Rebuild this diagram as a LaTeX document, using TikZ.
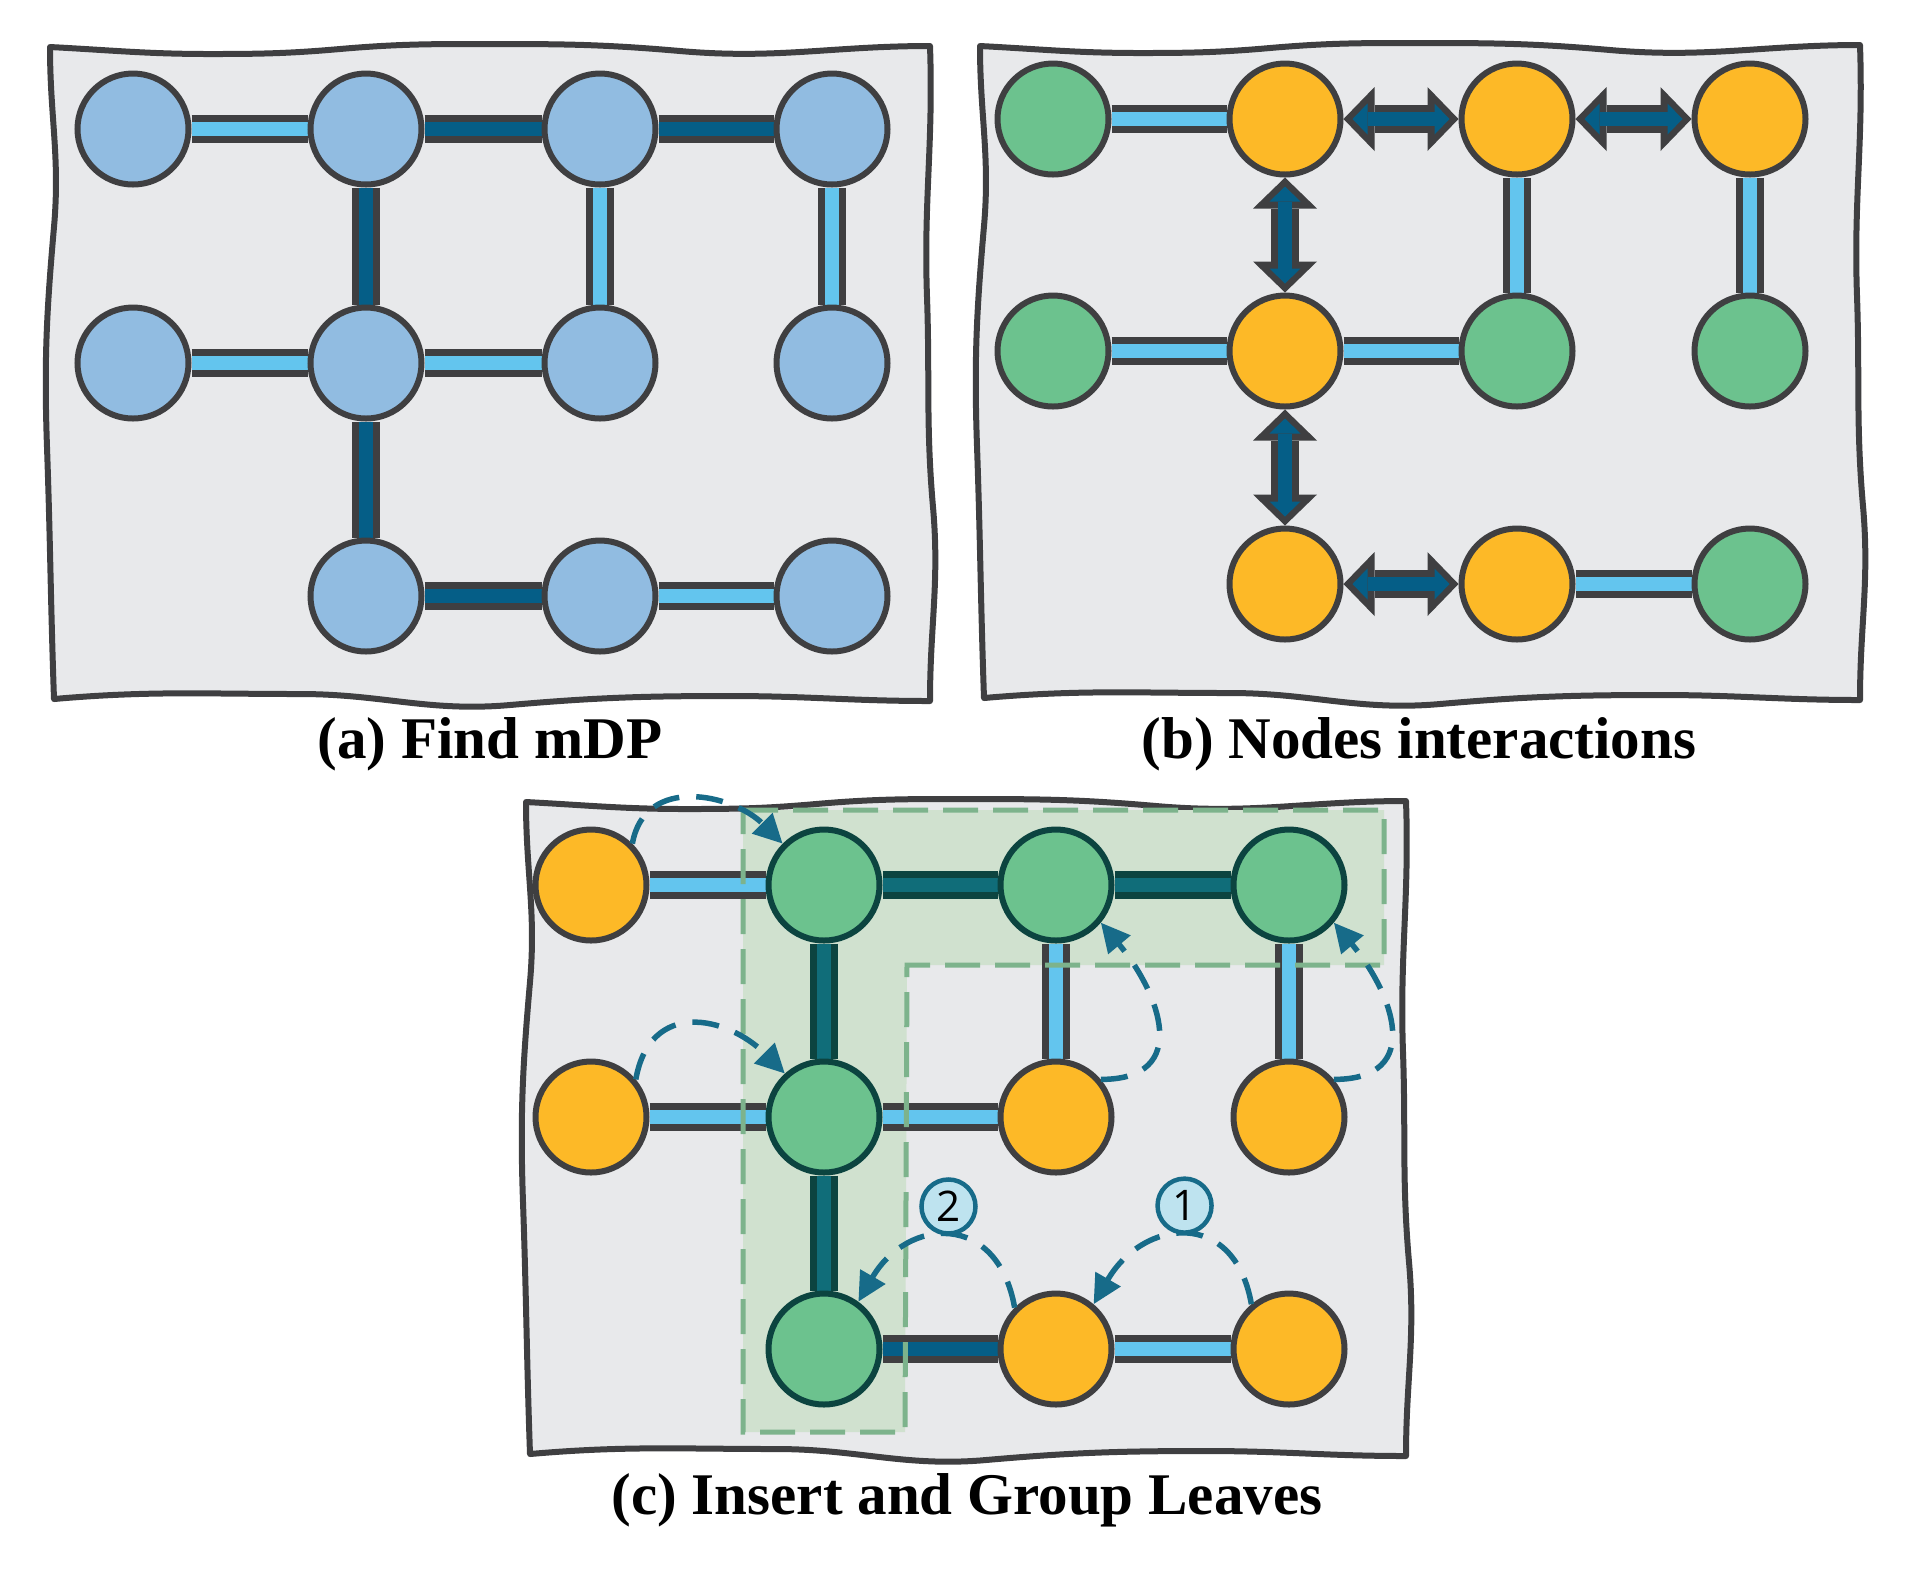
\documentclass[tikz,border=0pt]{standalone}
\usepackage{fontspec}
\setmainfont{Liberation Serif}
\setsansfont{Open Sans}
\usepackage{tikz}
\usetikzlibrary{arrows.meta,shapes,positioning,backgrounds}
\definecolor{panelfill}{RGB}{232, 233, 235}
\definecolor{panelline}{RGB}{63, 63, 65}
\definecolor{nodeline}{RGB}{63, 63, 65}
\definecolor{nodeblue}{RGB}{145, 188, 225}
\definecolor{nodeorange}{RGB}{253, 185, 39}
\definecolor{nodegreen}{RGB}{108, 194, 142}
\definecolor{edgelight}{RGB}{99, 197, 238}
\definecolor{edgedark}{RGB}{5, 94, 135}
\definecolor{edgeteal}{RGB}{16, 109, 121}
\definecolor{tealline}{RGB}{12, 68, 64}
\definecolor{groupfill}{RGB}{208, 225, 207}
\definecolor{groupline}{RGB}{125, 179, 140}
\definecolor{arrowblue}{RGB}{23, 107, 137}
\definecolor{labelfill}{RGB}{190, 227, 239}
\pgfdeclarelayer{edgelayer}
\pgfsetlayers{background,edgelayer,main}

% hand drawn panel, top left corner at (#1,#2)
\newcommand{\panelbox}[2]{%
    \draw[panel, shift={(#1,#2)}] (0,0) to[out=-3,in=180] (1.6,-0.07) to[out=0,in=185] (2.9,-0.02)
        to[out=5,in=180] (4.5,0.03) to[out=0,in=175] (6.3,-0.04) to[out=-5,in=180] (8.80,0.01)
        to[out=-88,in=92] (8.77,-2.5) to[out=-88,in=95] (8.83,-4.6) to[out=-85,in=90] (8.80,-6.54)
        to[out=180,in=0] (6.8,-6.49) to[out=180,in=5] (4.6,-6.58) to[out=185,in=0] (2.5,-6.47)
        to[out=180,in=5] (0.04,-6.52) to[out=92,in=-88] (-0.03,-4.0) to[out=92,in=-95] (0.04,-1.8)
        to[out=85,in=-90] (0,0) -- cycle;}

\begin{document}
\begin{tikzpicture}[
    panel/.style={draw=panelline, line width=0.06cm, fill=panelfill, line join=round},
    vertex/.style={circle, minimum size=1.11cm, inner sep=0pt, line width=0.06cm, draw=nodeline},
    bluenode/.style={vertex, fill=nodeblue},
    orangenode/.style={vertex, fill=nodeorange},
    greennode/.style={vertex, fill=nodegreen},
    groupnode/.style={vertex, fill=nodegreen, draw=tealline},
    lightedge/.style={line width=0.07cm, draw=nodeline, double=edgelight, double distance=0.14cm},
    darkedge/.style={lightedge, double=edgedark},
    tealedge/.style={line width=0.07cm, draw=tealline, double=edgeteal, double distance=0.14cm},
    fatarrow/.style={line width=0.28cm, draw=nodeline,
        arrows={Triangle[length=0.31cm,width=0.64cm,line width=0pt]-Triangle[length=0.31cm,width=0.64cm,line width=0pt]}},
    fatinner/.style={line width=0.14cm, draw=edgedark, shorten <=0.09cm, shorten >=0.09cm,
        arrows={Triangle[length=0.15cm,width=0.31cm,line width=0pt]-Triangle[length=0.15cm,width=0.31cm,line width=0pt]}},
    leafarrow/.style={draw=arrowblue, line width=0.055cm, dash pattern=on 0.27cm off 0.17cm, looseness=1.4,
        -{Triangle[length=0.29cm,width=0.28cm]}},
    numlabel/.style={solid, circle, draw=arrowblue, line width=0.045cm, fill=labelfill, minimum size=0.54cm,
        inner sep=0pt, text=black, font=\sffamily\fontsize{12}{14}\selectfont},
    caption/.style={font=\bfseries\fontsize{16.8}{20}\selectfont}
]
\useasboundingbox (0,0) rectangle (19.19,-15.69);

% Panels
\begin{scope}[on background layer]
    \panelbox{0.50}{-0.47}
    \panelbox{9.80}{-0.46}
    \panelbox{5.26}{-8.02}
    \fill[groupfill] (7.43,-8.10) -- (13.84,-8.10) -- (13.84,-9.65) -- (9.07,-9.65)
        -- (9.05,-14.32) -- (7.43,-14.32) -- cycle;
\end{scope}

% (a) Find mDP
\node[bluenode] (a11) at (1.33,-1.29) {};
\node[bluenode] (a12) at (3.66,-1.29) {};
\node[bluenode] (a13) at (6.00,-1.29) {};
\node[bluenode] (a14) at (8.32,-1.29) {};
\node[bluenode] (a21) at (1.33,-3.63) {};
\node[bluenode] (a22) at (3.66,-3.63) {};
\node[bluenode] (a23) at (6.00,-3.63) {};
\node[bluenode] (a24) at (8.32,-3.63) {};
\node[bluenode] (a32) at (3.66,-5.96) {};
\node[bluenode] (a33) at (6.00,-5.96) {};
\node[bluenode] (a34) at (8.32,-5.96) {};

% (b) Nodes interactions
\node[greennode] (b11) at (10.53,-1.19) {};
\node[orangenode] (b12) at (12.85,-1.19) {};
\node[orangenode] (b13) at (15.17,-1.19) {};
\node[orangenode] (b14) at (17.50,-1.19) {};
\node[greennode] (b21) at (10.53,-3.51) {};
\node[orangenode] (b22) at (12.85,-3.51) {};
\node[greennode] (b23) at (15.17,-3.51) {};
\node[greennode] (b24) at (17.50,-3.51) {};
\node[orangenode] (b32) at (12.85,-5.84) {};
\node[orangenode] (b33) at (15.17,-5.84) {};
\node[greennode] (b34) at (17.50,-5.84) {};

% (c) Insert and Group Leaves
\node[orangenode] (c11) at (5.91,-8.85) {};
\node[groupnode] (c12) at (8.24,-8.85) {};
\node[groupnode] (c13) at (10.56,-8.85) {};
\node[groupnode] (c14) at (12.89,-8.85) {};
\node[orangenode] (c21) at (5.91,-11.17) {};
\node[groupnode] (c22) at (8.24,-11.17) {};
\node[orangenode] (c23) at (10.56,-11.17) {};
\node[orangenode] (c24) at (12.89,-11.17) {};
\node[groupnode] (c32) at (8.24,-13.49) {};
\node[orangenode] (c33) at (10.56,-13.49) {};
\node[orangenode] (c34) at (12.89,-13.49) {};

% Edges
\begin{pgfonlayer}{edgelayer}
    \foreach \p/\q in {a11/a12, a13/a23, a14/a24, a21/a22, a22/a23, a33/a34,
                       b11/b12, b13/b23, b14/b24, b21/b22, b22/b23, b33/b34,
                       c11/c12, c13/c23, c14/c24, c21/c22, c22/c23, c33/c34}
        \draw[lightedge] (\p) -- (\q);
    \foreach \p/\q in {a12/a13, a13/a14, a12/a22, a22/a32, a32/a33, c32/c33}
        \draw[darkedge] (\p) -- (\q);
    \foreach \p/\q in {c12/c13, c13/c14, c12/c22, c22/c32}
        \draw[tealedge] (\p) -- (\q);
    \foreach \p/\q in {b12/b13, b13/b14, b12/b22, b22/b32, b32/b33} {
        \draw[fatarrow] (\p) -- (\q);
        \draw[fatinner] (\p) -- (\q);
    }
\end{pgfonlayer}

% Group outline and leaf moves
\draw[groupline, line width=0.05cm, dash pattern=on 0.35cm off 0.15cm]
    (7.43,-8.10) -- (13.84,-8.10) -- (13.84,-9.65) -- (9.07,-9.65)
    -- (9.05,-14.32) -- (7.43,-14.32) -- cycle;
\draw[leafarrow, looseness=1.2] (c11.45) to[out=80, in=135] (c12.135);
\draw[leafarrow] (c21.40) to[out=80, in=135] (c22.132);
\draw[leafarrow, looseness=1.5] (c23.40) to[out=0, in=-50] (c13.-40);
\draw[leafarrow, looseness=1.5] (c24.40) to[out=0, in=-50] (c14.-40);
\draw[leafarrow, looseness=1.6] (c34.130) to[out=100, in=60] node[numlabel, midway, above=0.01cm] (one) {1} (c33.50);
\draw[leafarrow, looseness=1.6] (c33.135) to[out=100, in=60] node[numlabel, midway, above=0.01cm] (two) {2} (c32.54);

% Captions
\node[caption] (capa) at (4.90,-7.44) {(a) Find mDP};
\node[caption] (capb) at (14.19,-7.44) {(b) Nodes interactions};
\node[caption] (capc) at (9.67,-15.00) {(c) Insert and Group Leaves};
\end{tikzpicture}
\end{document}
